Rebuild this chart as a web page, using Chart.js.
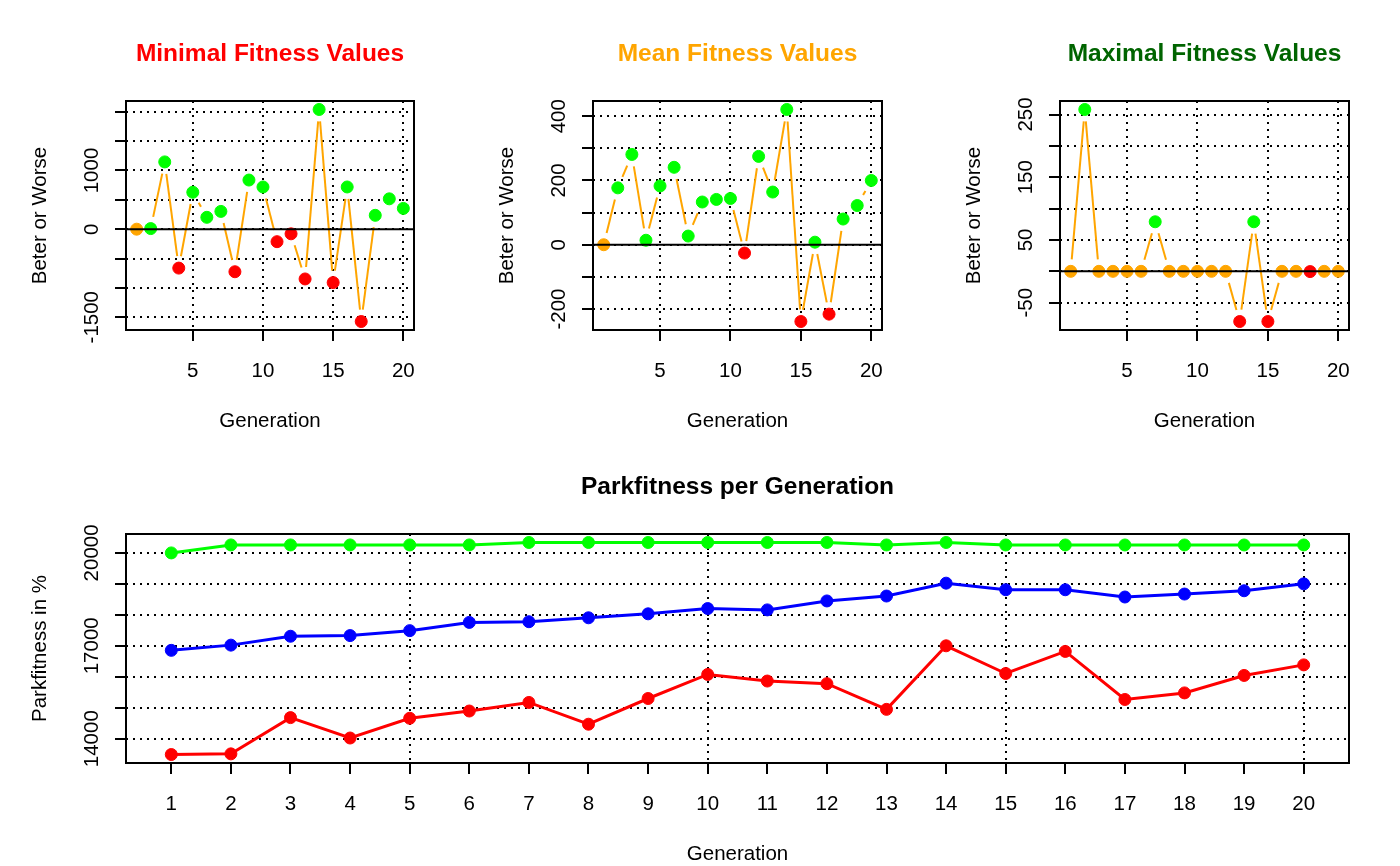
<!DOCTYPE html>
<html>
<head>
<meta charset="utf-8">
<title>Parkfitness per Generation</title>
<script src="https://cdn.jsdelivr.net/npm/chart.js@4.4.1/dist/chart.umd.min.js"></script>
<style>
    html, body { margin: 0; padding: 0; background: #fff; }
    #page { position: relative; width: 1400px; height: 866px; overflow: hidden; }
    #page canvas { position: absolute; }
</style>
</head>
<body>
<div id="page">
    <canvas id="min-chart"></canvas>
    <canvas id="mean-chart"></canvas>
    <canvas id="max-chart"></canvas>
    <canvas id="park-chart"></canvas>
</div>
<script>
// --- Data ---
const generations = [1, 2, 3, 4, 5, 6, 7, 8, 9, 10, 11, 12, 13, 14, 15, 16, 17, 18, 19, 20];

// change against the previous generation
const minDelta  = [0, 10, 1146, -663, 629, 202, 303, -725, 837, 719, -213, -79, -848, 2039, -910, 719, -1573, 236, 517, 354];
const meanDelta = [0, 177, 281, 14, 183, 241, 27, 133, 141, 144, -26, 275, 164, 421, -239, 8, -216, 80, 122, 200];
const maxDelta  = [0, 258, 0, 0, 0, 0, 79, 0, 0, 0, 0, 0, -80, 79, -80, 0, 0, -0.4, 0, 0];

// parkfitness per generation
const minFit  = [13489, 13510, 14681, 14022, 14660, 14894, 15171, 14468, 15298, 16075, 15862, 15777, 14947, 17000, 16106, 16819, 15266, 15479, 16043, 16384];
const meanFit = [16853, 17022, 17309, 17330, 17490, 17756, 17778, 17905, 18033, 18203, 18160, 18449, 18608, 19023, 18810, 18810, 18576, 18672, 18778, 19001];
const maxFit  = [20000, 20258, 20258, 20258, 20258, 20258, 20337, 20337, 20337, 20337, 20337, 20337, 20257, 20337, 20257, 20257, 20257, 20257, 20257, 20257];

// axis ticks and the labels R kept
const genTicks = [5, 10, 15, 20];
const minTicks = [-1500, -1000, -500, 0, 500, 1000, 1500, 2000];
const minLabels = [-1500, 0, 1000];
const meanTicks = [-200, -100, 0, 100, 200, 300, 400];
const meanLabels = [-200, 0, 200, 400];
const maxTicks = [-50, 0, 50, 100, 150, 200, 250];
const maxLabels = [-50, 50, 150, 250];
const parkTicks = [14000, 15000, 16000, 17000, 18000, 19000, 20000];
const parkLabels = [14000, 17000, 20000];

// --- Look ---
const FONT = '"Liberation Sans", Arial, sans-serif';
const TICK_LEN = 11;
const C_GREEN = '#00FF00';
const C_RED = '#FF0000';
const C_ORANGE = '#FFA500';
const C_BLUE = '#0000FF';

// R style axis range: data range stretched by 4% on each side
function rRange(values) {
    const lo = Math.min(...values), hi = Math.max(...values);
    const pad = (hi - lo) * 0.04;
    return [lo - pad, hi + pad];
}

function signColor(v) {
    if (v > 0) return C_GREEN;
    if (v < 0) return C_RED;
    return C_ORANGE;
}

// --- Plugins ---
// type="b" style line: segments with a gap round every point
const gappedLines = {
    id: 'gappedLines',
    beforeDatasetsDraw(chart, args, opts) {
        if (!opts.gap) return;
        const ctx = chart.ctx;
        const area = chart.chartArea;
        ctx.save();
        ctx.beginPath();
        ctx.rect(area.left, area.top, area.right - area.left, area.bottom - area.top);
        ctx.clip();
        ctx.strokeStyle = opts.color;
        ctx.lineWidth = opts.width;
        chart.data.datasets.forEach((ds, di) => {
            const pts = chart.getDatasetMeta(di).data;
            for (let i = 1; i < pts.length; i++) {
                const a = pts[i - 1], b = pts[i];
                const dx = b.x - a.x, dy = b.y - a.y;
                const d = Math.hypot(dx, dy);
                if (d <= opts.gap * 2) continue;
                const f = opts.gap / d;
                ctx.beginPath();
                ctx.moveTo(a.x + dx * f, a.y + dy * f);
                ctx.lineTo(b.x - dx * f, b.y - dy * f);
                ctx.stroke();
            }
        });
        ctx.restore();
    }
};

// box, zero line, titles and tick labels the way base R lays them out
const rFrame = {
    id: 'rFrame',
    afterDatasetsDraw(chart, args, o) {
        if (!o.zeroLine) return;
        const {ctx, chartArea: a, scales: {y}} = chart;
        const y0 = y.getPixelForValue(0);
        ctx.save();
        ctx.strokeStyle = '#000';
        ctx.lineWidth = 2;
        ctx.beginPath();
        ctx.moveTo(a.left, y0);
        ctx.lineTo(a.right, y0);
        ctx.stroke();
        ctx.restore();
    },
    afterDraw(chart, args, o) {
        const {ctx, chartArea: a, scales: {x, y}} = chart;
        const midX = (a.left + a.right) / 2;
        ctx.save();
        ctx.strokeStyle = '#000';
        ctx.lineWidth = 2;
        ctx.setLineDash([]);
        ctx.strokeRect(a.left, a.top, a.right - a.left, a.bottom - a.top);

        ctx.textAlign = 'center';
        ctx.textBaseline = 'alphabetic';
        ctx.fillStyle = o.titleColor;
        ctx.font = 'bold 24.5px ' + FONT;
        ctx.fillText(o.title, midX, a.top - 40);

        ctx.fillStyle = '#000';
        ctx.font = '20.5px ' + FONT;
        o.xLabels.forEach(v => ctx.fillText(String(v), x.getPixelForValue(v), a.bottom + 47));
        ctx.fillText(o.xTitle, midX, a.bottom + 97);

        o.yLabels.forEach(v => {
            ctx.save();
            ctx.translate(a.left - 28, y.getPixelForValue(v));
            ctx.rotate(-Math.PI / 2);
            ctx.fillText(String(v), 0, 0);
            ctx.restore();
        });
        ctx.save();
        ctx.translate(a.left - 80, (a.top + a.bottom) / 2);
        ctx.rotate(-Math.PI / 2);
        ctx.fillText(o.yTitle, 0, 0);
        ctx.restore();
        ctx.restore();
    }
};

// --- Chart builder ---
// region = canvas rect on the page, box = plot box on the page
function makePanel(canvasId, region, box, datasets, yValues, setup) {
    const canvas = document.getElementById(canvasId);
    canvas.width = region.w;
    canvas.height = region.h;
    canvas.style.left = region.x + 'px';
    canvas.style.top = region.y + 'px';
    canvas.style.width = region.w + 'px';
    canvas.style.height = region.h + 'px';

    const [xMin, xMax] = rRange(generations);
    const [yMin, yMax] = rRange(yValues);

    const gridX = setup.gridX || genTicks;
    const axisBase = {
        type: 'linear',
        ticks: { display: false },
        border: { display: false, dash: [2, 5] },
    };

    return new Chart(canvas.getContext('2d'), {
        type: 'line',
        data: { datasets },
        options: {
            responsive: false,
            animation: false,
            events: [],
            layout: {
                padding: {
                    left: box.left - region.x - TICK_LEN,
                    right: region.x + region.w - box.right,
                    top: box.top - region.y,
                    bottom: region.y + region.h - box.bottom - TICK_LEN,
                }
            },
            plugins: {
                legend: { display: false },
                tooltip: { enabled: false },
                gappedLines: setup.gapped || {},
                rFrame: {
                    title: setup.title,
                    titleColor: setup.titleColor,
                    xTitle: 'Generation',
                    yTitle: setup.yTitle,
                    xLabels: setup.xTicks,
                    yLabels: setup.yLabels,
                    zeroLine: setup.zeroLine,
                }
            },
            scales: {
                x: {
                    ...axisBase,
                    min: xMin,
                    max: xMax,
                    afterBuildTicks: axis => { axis.ticks = setup.xTicks.map(v => ({ value: v })); },
                    grid: {
                        lineWidth: 2,
                        color: c => (c.tick && gridX.includes(c.tick.value)) ? '#000' : 'rgba(0,0,0,0)',
                        tickLength: TICK_LEN,
                        tickWidth: 2,
                        tickColor: '#000',
                    },
                },
                y: {
                    ...axisBase,
                    min: yMin,
                    max: yMax,
                    afterBuildTicks: axis => { axis.ticks = setup.yTicks.map(v => ({ value: v })); },
                    grid: {
                        lineWidth: 2,
                        color: '#000',
                        tickLength: TICK_LEN,
                        tickWidth: 2,
                        tickColor: '#000',
                    },
                },
            }
        },
        plugins: [gappedLines, rFrame]
    });
}

function deltaDataset(values) {
    const colors = values.map(signColor);
    return {
        data: generations.map((g, i) => ({ x: g, y: values[i] })),
        showLine: false,
        pointRadius: 6,
        pointBorderWidth: 1,
        pointBackgroundColor: colors,
        pointBorderColor: colors,
    };
}

function fitDataset(values, color) {
    return {
        data: generations.map((g, i) => ({ x: g, y: values[i] })),
        showLine: true,
        borderColor: color,
        borderWidth: 3,
        tension: 0,
        pointRadius: 6,
        pointBorderWidth: 1,
        pointBackgroundColor: color,
        pointBorderColor: color,
    };
}

const gapOrange = { gap: 12, color: C_ORANGE, width: 2 };

makePanel('min-chart',
    { x: 0, y: 0, w: 467, h: 433 },
    { left: 126, right: 414, top: 101, bottom: 330 },
    [deltaDataset(minDelta)], minDelta,
    { title: 'Minimal Fitness Values', titleColor: C_RED, yTitle: 'Beter or Worse',
      xTicks: genTicks, yTicks: minTicks, yLabels: minLabels, zeroLine: true, gapped: gapOrange });

makePanel('mean-chart',
    { x: 467, y: 0, w: 467, h: 433 },
    { left: 593, right: 882, top: 101, bottom: 330 },
    [deltaDataset(meanDelta)], meanDelta,
    { title: 'Mean Fitness Values', titleColor: C_ORANGE, yTitle: 'Beter or Worse',
      xTicks: genTicks, yTicks: meanTicks, yLabels: meanLabels, zeroLine: true, gapped: gapOrange });

makePanel('max-chart',
    { x: 934, y: 0, w: 466, h: 433 },
    { left: 1060, right: 1349, top: 101, bottom: 330 },
    [deltaDataset(maxDelta)], maxDelta,
    { title: 'Maximal Fitness Values', titleColor: '#006400', yTitle: 'Beter or Worse',
      xTicks: genTicks, yTicks: maxTicks, yLabels: maxLabels, zeroLine: true, gapped: gapOrange });

makePanel('park-chart',
    { x: 0, y: 433, w: 1400, h: 433 },
    { left: 126, right: 1349, top: 534, bottom: 763 },
    [fitDataset(maxFit, C_GREEN), fitDataset(meanFit, C_BLUE), fitDataset(minFit, C_RED)],
    [...minFit, ...meanFit, ...maxFit],
    { title: 'Parkfitness per Generation', titleColor: '#000', yTitle: 'Parkfitness in %',
      xTicks: generations, gridX: genTicks, yTicks: parkTicks, yLabels: parkLabels, zeroLine: false });
</script>
</body>
</html>
